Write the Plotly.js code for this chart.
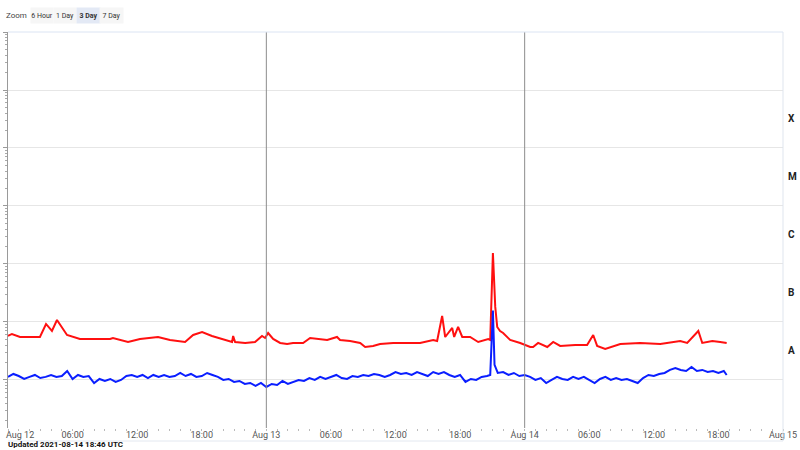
<!DOCTYPE html>
<html>
<head>
<meta charset="utf-8">
<script src="https://cdn.plot.ly/plotly-3.0.1.min.js"></script>
<style>html,body{margin:0;padding:0;background:#fff;}#chart{width:800px;height:450px;}</style>
</head>
<body>
<div id="chart"></div>
<script>
// GOES X-ray flux, long channel (0.1-0.8 nm), W/m^2
const redTimes = ["2021-08-12 00:00","2021-08-12 00:22","2021-08-12 01:07","2021-08-12 02:03","2021-08-12 02:58","2021-08-12 03:32","2021-08-12 04:05","2021-08-12 04:33","2021-08-12 05:01","2021-08-12 05:29","2021-08-12 06:41","2021-08-12 08:05","2021-08-12 09:29","2021-08-12 09:45","2021-08-12 11:09","2021-08-12 12:16","2021-08-12 13:56","2021-08-12 15:03","2021-08-12 16:27","2021-08-12 17:12","2021-08-12 18:02","2021-08-12 18:57","2021-08-12 19:53","2021-08-12 20:49","2021-08-12 20:55","2021-08-12 21:06","2021-08-12 22:02","2021-08-12 22:57","2021-08-12 23:36","2021-08-12 23:53","2021-08-13 00:10","2021-08-13 00:38","2021-08-13 01:17","2021-08-13 01:56","2021-08-13 02:29","2021-08-13 03:25","2021-08-13 04:04","2021-08-13 04:43","2021-08-13 05:39","2021-08-13 06:34","2021-08-13 06:51","2021-08-13 07:47","2021-08-13 08:43","2021-08-13 09:11","2021-08-13 09:55","2021-08-13 10:34","2021-08-13 11:47","2021-08-13 13:22","2021-08-13 14:17","2021-08-13 15:30","2021-08-13 15:52","2021-08-13 16:20","2021-08-13 16:37","2021-08-13 17:16","2021-08-13 17:27","2021-08-13 17:49","2021-08-13 18:12","2021-08-13 18:56","2021-08-13 19:41","2021-08-13 20:37","2021-08-13 20:48","2021-08-13 21:03","2021-08-13 21:16","2021-08-13 21:27","2021-08-13 21:43","2021-08-13 22:00","2021-08-13 22:39","2021-08-13 23:35","2021-08-14 00:31","2021-08-14 00:47","2021-08-14 01:15","2021-08-14 02:06","2021-08-14 02:39","2021-08-14 03:18","2021-08-14 04:42","2021-08-14 05:48","2021-08-14 06:22","2021-08-14 06:44","2021-08-14 07:29","2021-08-14 08:53","2021-08-14 10:44","2021-08-14 12:36","2021-08-14 14:27","2021-08-14 15:06","2021-08-14 16:08","2021-08-14 16:30","2021-08-14 17:26","2021-08-14 18:10","2021-08-14 18:46"];
const redFlux = [5.74e-8,6.21e-8,5.51e-8,5.51e-8,5.51e-8,9.24e-8,7.0e-8,1.08e-7,7.88e-8,5.97e-8,5.09e-8,5.09e-8,5.09e-8,5.30e-8,4.52e-8,5.09e-8,5.51e-8,4.90e-8,4.52e-8,5.97e-8,6.73e-8,5.74e-8,5.09e-8,4.52e-8,5.74e-8,4.52e-8,4.35e-8,4.52e-8,5.74e-8,5.30e-8,6.46e-8,5.09e-8,4.35e-8,4.18e-8,4.35e-8,4.35e-8,5.30e-8,5.09e-8,4.90e-8,5.51e-8,4.90e-8,4.70e-8,4.35e-8,3.71e-8,3.86e-8,4.18e-8,4.35e-8,4.35e-8,4.35e-8,4.90e-8,4.70e-8,1.27e-7,5.51e-8,7.88e-8,5.51e-8,8.2e-8,5.51e-8,5.51e-8,4.52e-8,5.09e-8,4.90e-8,1.55e-6,1.82e-7,8.2e-8,7.0e-8,6.46e-8,4.90e-8,4.35e-8,3.71e-8,3.71e-8,4.35e-8,3.71e-8,4.52e-8,3.86e-8,4.01e-8,4.01e-8,5.97e-8,3.86e-8,3.42e-8,4.18e-8,4.35e-8,4.18e-8,4.70e-8,4.35e-8,7.0e-8,4.35e-8,4.70e-8,4.52e-8,4.35e-8];

// GOES X-ray flux, short channel (0.05-0.4 nm), W/m^2
const blueTimes = [
"2021-08-12 00:00","2021-08-12 00:30","2021-08-12 01:00","2021-08-12 01:30","2021-08-12 02:00","2021-08-12 02:30","2021-08-12 03:00","2021-08-12 03:30","2021-08-12 04:00","2021-08-12 04:30",
"2021-08-12 05:00","2021-08-12 05:30","2021-08-12 06:00","2021-08-12 06:30","2021-08-12 07:00","2021-08-12 07:30","2021-08-12 08:00","2021-08-12 08:30","2021-08-12 09:00","2021-08-12 09:30",
"2021-08-12 10:00","2021-08-12 10:30","2021-08-12 11:00","2021-08-12 11:30","2021-08-12 12:00","2021-08-12 12:30","2021-08-12 13:00","2021-08-12 13:30","2021-08-12 14:00","2021-08-12 14:30",
"2021-08-12 15:00","2021-08-12 15:30","2021-08-12 16:00","2021-08-12 16:30","2021-08-12 17:00","2021-08-12 17:30","2021-08-12 18:00","2021-08-12 18:30","2021-08-12 19:00","2021-08-12 19:30",
"2021-08-12 20:00","2021-08-12 20:30","2021-08-12 21:00","2021-08-12 21:30","2021-08-12 22:00","2021-08-12 22:30","2021-08-12 23:00","2021-08-12 23:30",
"2021-08-13 00:00","2021-08-13 00:30","2021-08-13 01:00","2021-08-13 01:30","2021-08-13 02:00","2021-08-13 02:30","2021-08-13 03:00","2021-08-13 03:30","2021-08-13 04:00","2021-08-13 04:30",
"2021-08-13 05:00","2021-08-13 05:30","2021-08-13 06:00","2021-08-13 06:30","2021-08-13 07:00","2021-08-13 07:30","2021-08-13 08:00","2021-08-13 08:30","2021-08-13 09:00","2021-08-13 09:30",
"2021-08-13 10:00","2021-08-13 10:30","2021-08-13 11:00","2021-08-13 11:30","2021-08-13 12:00","2021-08-13 12:30","2021-08-13 13:00","2021-08-13 13:30","2021-08-13 14:00","2021-08-13 14:30",
"2021-08-13 15:00","2021-08-13 15:30","2021-08-13 16:00","2021-08-13 16:30","2021-08-13 17:00","2021-08-13 17:30","2021-08-13 18:00","2021-08-13 18:30","2021-08-13 19:00","2021-08-13 19:30",
"2021-08-13 20:00","2021-08-13 20:30","2021-08-13 20:48","2021-08-13 21:03","2021-08-13 21:12","2021-08-13 21:30","2021-08-13 22:00","2021-08-13 22:30","2021-08-13 23:00","2021-08-13 23:30",
"2021-08-14 00:00","2021-08-14 00:30","2021-08-14 01:00","2021-08-14 01:30","2021-08-14 02:00","2021-08-14 02:30","2021-08-14 03:00","2021-08-14 03:30","2021-08-14 04:00","2021-08-14 04:30",
"2021-08-14 05:00","2021-08-14 05:30","2021-08-14 06:00","2021-08-14 06:30","2021-08-14 07:00","2021-08-14 07:30","2021-08-14 08:00","2021-08-14 08:30","2021-08-14 09:00","2021-08-14 09:30",
"2021-08-14 10:00","2021-08-14 10:30","2021-08-14 11:00","2021-08-14 11:30","2021-08-14 12:00","2021-08-14 12:30","2021-08-14 13:00","2021-08-14 13:30","2021-08-14 14:00","2021-08-14 14:30",
"2021-08-14 15:00","2021-08-14 15:30","2021-08-14 16:00","2021-08-14 16:30","2021-08-14 17:00","2021-08-14 17:30","2021-08-14 18:00","2021-08-14 18:30","2021-08-14 18:46"];
const blueFlux = [
1.13e-8,1.27e-8,1.17e-8,1.04e-8,1.13e-8,1.22e-8,1.08e-8,1.13e-8,1.22e-8,1.13e-8,
1.17e-8,1.43e-8,1.04e-8,1.22e-8,1.13e-8,1.17e-8,8.87e-9,1.04e-8,9.61e-9,1.04e-8,
9.24e-9,1.0e-8,1.17e-8,1.22e-8,1.13e-8,1.22e-8,1.08e-8,1.22e-8,1.13e-8,1.22e-8,
1.13e-8,1.17e-8,1.32e-8,1.17e-8,1.27e-8,1.13e-8,1.17e-8,1.32e-8,1.22e-8,1.13e-8,
1.0e-8,1.04e-8,9.24e-9,9.61e-9,8.53e-9,8.87e-9,7.88e-9,8.87e-9,
7.57e-9,8.53e-9,8.20e-9,9.61e-9,8.53e-9,9.24e-9,1.0e-8,9.61e-9,1.08e-8,1.0e-8,
1.13e-8,1.04e-8,1.13e-8,1.22e-8,1.08e-8,1.04e-8,1.17e-8,1.13e-8,1.22e-8,1.17e-8,
1.27e-8,1.22e-8,1.13e-8,1.22e-8,1.37e-8,1.27e-8,1.32e-8,1.22e-8,1.37e-8,1.27e-8,
1.17e-8,1.37e-8,1.27e-8,1.37e-8,1.22e-8,1.13e-8,1.22e-8,9.24e-9,1.04e-8,1.0e-8,
1.13e-8,1.17e-8,1.22e-8,1.57e-7,1.82e-8,1.32e-8,1.37e-8,1.22e-8,1.32e-8,1.17e-8,
1.22e-8,1.13e-8,1.0e-8,1.08e-8,8.87e-9,1.0e-8,1.13e-8,1.04e-8,1.0e-8,1.13e-8,
1.04e-8,1.13e-8,1.0e-8,8.87e-9,1.04e-8,1.13e-8,1.0e-8,1.08e-8,1.0e-8,1.04e-8,
9.61e-9,8.87e-9,1.08e-8,1.22e-8,1.17e-8,1.27e-8,1.32e-8,1.49e-8,1.61e-8,1.49e-8,
1.43e-8,1.68e-8,1.43e-8,1.49e-8,1.37e-8,1.43e-8,1.32e-8,1.43e-8,1.22e-8];

// Flare classes and their lower flux bound
const classLabels = ["A","B","C","M","X"];
const classLow = [1e-8,1e-7,1e-6,1e-5,1e-4];

// X axis tick labels (the first one, at the left edge, is drawn left-aligned separately)
const tickDates = ["2021-08-12 00:00","2021-08-12 06:00","2021-08-12 12:00","2021-08-12 18:00","2021-08-13 00:00","2021-08-13 06:00","2021-08-13 12:00","2021-08-13 18:00","2021-08-14 00:00","2021-08-14 06:00","2021-08-14 12:00","2021-08-14 18:00","2021-08-15 00:00"];
const tickLabels = ["Aug 12","06:00","12:00","18:00","Aug 13","06:00","12:00","18:00","Aug 14","06:00","12:00","18:00","Aug 15"];
const dayBoundaries = ["2021-08-13 00:00","2021-08-14 00:00"];
const zoomButtons = ["6 Hour","1 Day","3 Day","7 Day"];
const activeButton = "3 Day";
const updatedText = "Updated 2021-08-14 18:46 UTC";

const FONT = "Roboto, Arial, sans-serif";
const PLOT_W = 775, PLOT_H = 396;

const traces = [
  {x: redTimes, y: redFlux, type: "scatter", mode: "lines", name: "0.1-0.8 nm",
   line: {color: "#ff1010", width: 2}, hoverinfo: "skip"},
  {x: blueTimes, y: blueFlux, type: "scatter", mode: "lines", name: "0.05-0.4 nm",
   line: {color: "#0a1eff", width: 2}, hoverinfo: "skip"}
];

const annotations = [];
classLabels.forEach((c, i) => {
  annotations.push({text: "<b>" + c + "</b>", xref: "paper", x: 1, xanchor: "left", xshift: 3,
    yref: "y", y: Math.log10(classLow[i]) + 0.5, yanchor: "middle", showarrow: false,
    font: {family: FONT, size: 10, color: "#222"}});
});
const topY = 1 + 17 / PLOT_H;
annotations.push({text: "Zoom", xref: "paper", x: -3 / PLOT_W, xanchor: "left", yref: "paper", y: topY,
  yanchor: "middle", showarrow: false, borderpad: 0, font: {family: FONT, size: 8, color: "#444"}});
const btnLeft = [31, 54, 77, 100];
const btnWidth = [22, 22, 23, 23];
zoomButtons.forEach((b, i) => {
  const active = b === activeButton;
  annotations.push({text: active ? "<b>" + b + "</b>" : b, xref: "paper",
    x: (btnLeft[i] + btnWidth[i] / 2 - 8) / PLOT_W,
    xanchor: "center", yref: "paper", y: topY, yanchor: "middle", showarrow: false,
    bgcolor: active ? "#e3e9f5" : "#f6f6f6", borderpad: 0, width: btnWidth[i], height: 15,
    font: {family: FONT, size: 7, color: "#333"}});
});
// first x tick label, kept inside the chart like the reference
annotations.push({text: tickLabels[0], xref: "x", x: tickDates[0], xanchor: "left", xshift: -3,
  yref: "paper", y: -7 / PLOT_H, yanchor: "middle", showarrow: false, borderpad: 0,
  font: {family: FONT, size: 9, color: "#555"}});
annotations.push({text: "<b>" + updatedText + "</b>", xref: "paper", x: -2 / PLOT_W, xanchor: "left",
  yref: "paper", y: -17 / PLOT_H, yanchor: "middle", showarrow: false,
  font: {family: FONT, size: 8, color: "#111"}});

const shapes = dayBoundaries.map(d => ({type: "line", xref: "x", x0: d, x1: d, yref: "paper", y0: 0, y1: 1,
  line: {color: "#8c8c8c", width: 1}}));
shapes.push({type: "line", xref: "paper", x0: 1, x1: 1, yref: "paper", y0: -13 / PLOT_H, y1: 1, line: {color: "#dfe5ee", width: 1}});
shapes.push({type: "line", xref: "paper", x0: 0, x1: 1, yref: "paper", y0: 1, y1: 1, line: {color: "#dbe4f3", width: 1}});
shapes.push({type: "line", xref: "paper", x0: 0, x1: 1, yref: "paper", y0: -13 / PLOT_H, y1: -13 / PLOT_H, line: {color: "#e3e8f0", width: 1}});

const layout = {
  width: 800, height: 450,
  margin: {l: 8, r: 17, t: 32, b: 22, pad: 0},
  paper_bgcolor: "#ffffff", plot_bgcolor: "#ffffff",
  showlegend: false,
  font: {family: FONT, size: 9, color: "#555"},
  xaxis: {
    type: "date", range: ["2021-08-12 00:00", "2021-08-15 00:00"],
    tickmode: "array", tickvals: tickDates.slice(1), ticktext: tickLabels.slice(1),
    showgrid: false, zeroline: false, showline: false,
    ticks: "",
    minor: {dtick: 3600000, ticks: "outside", ticklen: 2, tickcolor: "#bbbbbb", showgrid: false},
    tickfont: {family: FONT, size: 9, color: "#555"}
  },
  yaxis: {
    type: "log", range: [-8.828, -2], dtick: 1,
    showticklabels: false, showgrid: true, gridcolor: "#e6e6e6", gridwidth: 1,
    zeroline: false, showline: true, linecolor: "#9a9a9a", linewidth: 1,
    ticks: "outside", ticklen: 4, tickcolor: "#9a9a9a",
    minor: {ticks: "outside", ticklen: 2, tickcolor: "#aaaaaa", showgrid: false}
  },
  annotations: annotations,
  shapes: shapes
};

Plotly.newPlot("chart", traces, layout, {staticPlot: true, displayModeBar: false});
</script>
</body>
</html>
